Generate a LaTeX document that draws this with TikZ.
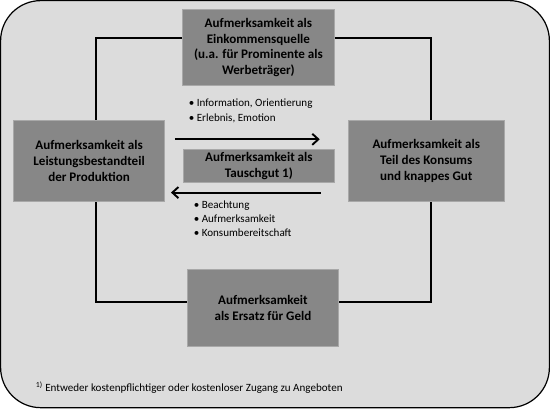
\documentclass[tikz,border=0pt]{standalone}
\usepackage{fontspec}
\setmainfont{Carlito}
\usetikzlibrary{arrows.meta}
\definecolor{bggray}{HTML}{DCDCDC}
\definecolor{boxgray}{HTML}{878787}
\definecolor{boxline}{HTML}{A8A8A8}

\begin{document}
\begin{tikzpicture}[x=1pt,y=-1pt,
	box/.style={fill=boxgray,draw=boxline,line width=1pt,align=center,inner sep=0pt,
		font=\fontsize{13}{15.5}\selectfont\bfseries},
	loop/.style={line width=1.6pt},
	flow/.style={line width=1.9pt,-{Straight Barb[length=6pt,width=11pt]}},
	note/.style={align=left,inner sep=0pt,anchor=north west,font=\fontsize{11}{14}\selectfont}]
		\draw[line width=1.2pt,fill=bggray,rounded corners=40pt] (2,2) rectangle (548,407);
		% boxes
		\node[box,minimum width=151pt,minimum height=75pt] (top) at (258.5,48.5) {Aufmerksamkeit als\\Einkommensquelle\\(u.a. für Prominente als\\Werbeträger)};
		\node[box,minimum width=150pt,minimum height=81pt] (left) at (90,161.5) {Aufmerksamkeit als\\Leistungsbestandteil\\der Produktion};
		\node[box,minimum width=155pt,minimum height=81pt] (right) at (425.5,161.5) {Aufmerksamkeit als\\Teil des Konsums\\und knappes Gut};
		\node[box,minimum width=150pt,minimum height=33pt] (trade) at (259,166.5) {Aufmerksamkeit als\\Tauschgut 1)};
		\node[box,minimum width=150pt,minimum height=76pt] (bottom) at (263,308) {Aufmerksamkeit\\als Ersatz für Geld};
		% frame
		\coordinate (lt) at (97,39);
		\coordinate (rt) at (430,39);
		\coordinate (lb) at (97,302);
		\coordinate (rb) at (430,302);
		\draw[loop] (top.west |- lt) -- (lt) -- (lt |- left.north);
		\draw[loop] (top.east |- rt) -- (rt) -- (rt |- right.north);
		\draw[loop] (left.south -| lb) -- (lb) -- (bottom.west |- lb);
		\draw[loop] (right.south -| rb) -- (rb) -- (bottom.east |- rb);
		% exchange
		\draw[flow,shorten <=10pt,shorten >=28pt] ([yshift=21.5pt]left.east) -- ([yshift=21.5pt]right.west);
		\draw[flow,shorten <=27pt,shorten >=6pt] ([yshift=-31.5pt]right.west) -- ([yshift=-31.5pt]left.east);
		\node[note] (gain) at (189,100) {\textbullet\ Information, Orientierung\\\textbullet\ Erlebnis, Emotion};
		\node[note] (pay) at (194,201) {\textbullet\ Beachtung\\\textbullet\ Aufmerksamkeit\\\textbullet\ Konsumbereitschaft};
		\node[note,anchor=west] (foot) at (37,387) {\textsuperscript{1)} Entweder kostenpflichtiger oder kostenloser Zugang zu Angeboten};
	\end{tikzpicture}
\end{document}
